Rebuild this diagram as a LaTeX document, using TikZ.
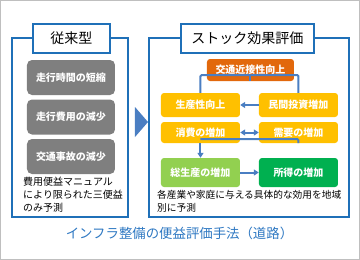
\documentclass[tikz,border=0pt]{standalone}
\usepackage{fontspec}
\setmainfont{Noto Sans CJK JP}
\usetikzlibrary{arrows.meta}
\definecolor{frameblue}{HTML}{1F70B8}
\definecolor{connblue}{HTML}{4A7EC2}
\definecolor{boxgray}{HTML}{7F7F7F}
\definecolor{boxyellow}{HTML}{FFC000}
\definecolor{boxorange}{HTML}{E2680C}
\definecolor{boxlgreen}{HTML}{92D050}
\definecolor{boxgreen}{HTML}{00B050}
\definecolor{titleblue}{HTML}{2E78C2}
\tikzset{
  frame/.style={draw=frameblue, line width=2pt},
  titlebox/.style={draw=frameblue, line width=2.6pt, fill=white, inner sep=0pt, font=\fontsize{14}{16}\selectfont},
  graybox/.style={fill=boxgray, rounded corners=5pt, minimum width=88pt, minimum height=35pt, inner sep=0pt, text=white, font=\fontsize{10}{12}\selectfont\bfseries},
  cbox/.style={rounded corners=3pt, minimum width=79pt, inner sep=0pt, text=white, font=\fontsize{10}{12}\selectfont\bfseries},
  conn/.style={draw=connblue, line width=2pt},
  tip/.style={-{Triangle[length=5pt,width=6pt]}},
  note/.style={anchor=north west, inner sep=0pt, align=left, font=\fontsize{10}{13}\selectfont}
}
\begin{document}
\begin{tikzpicture}[x=1pt,y=-1pt]
\useasboundingbox (0,0) rectangle (360,260);
\draw[draw=gray!50, line width=1pt] (0.5,0.5) rectangle (359.5,259.5);
% left frame
\draw[frame] (12,38) rectangle (128.5,217);
\node[titlebox, minimum width=77pt, minimum height=29pt] (t1) at (71.5,38.5) {従来型};
\node[graybox] (g1) at (71,77.5) {走行時間の短縮};
\node[graybox] (g2) at (71,117) {走行費用の減少};
\node[graybox] (g3) at (71,156.5) {交通事故の減少};
\node[note, text width=100pt] (n1) at (23,177) {費用便益マニュアル\\により限られた三便益\\のみ予測};
% arrow
\fill[connblue] (135,107) -- (148,122) -- (135,137) -- cycle;
% right frame
\draw[frame] (149,38) rectangle (349,217);
\node[titlebox, minimum width=133pt, minimum height=29pt] (t2) at (247.5,38.5) {ストック効果評価};
\node[cbox, fill=boxorange, minimum width=87pt, minimum height=22pt] (o) at (250.5,70) {交通近接性向上};
\node[cbox, fill=boxyellow, minimum height=24pt] (p) at (200.5,105) {生産性向上};
\node[cbox, fill=boxyellow, minimum height=24pt] (m) at (298.5,105) {民間投資増加};
\node[cbox, fill=boxyellow, minimum height=21pt] (c) at (200.5,132.5) {消費の増加};
\node[cbox, fill=boxyellow, minimum height=21pt] (d) at (298.5,132.5) {需要の増加};
\node[cbox, fill=boxlgreen, minimum height=29pt] (tg) at (200.5,172.5) {総生産の増加};
\node[cbox, fill=boxgreen, minimum height=29pt] (ig) at (298.5,172.5) {所得の増加};
\coordinate (j1) at ([yshift=6pt]o.south);
\draw[conn] (o.south) -- (j1);
\draw[conn, rounded corners=1pt] (j1) -| (p.north);
\draw[conn, rounded corners=1pt] (j1) -| (m.north);
\draw[conn, tip] (m.west) -- (p.east);
\draw[conn, {Triangle[length=5pt,width=6pt]}-{Triangle[length=5pt,width=6pt]}] (c.east) -- (d.west);
\coordinate (j2) at ([yshift=4pt]c.south);
\draw[conn, rounded corners=1pt] (d.south) |- (j2);
\draw[conn, tip] (c.south) -- (tg.north);
\draw[conn, tip] (tg.east) -- (ig.west);
\node[note, text width=190pt, font=\fontsize{9.7}{13}\selectfont] (n2) at (157,190) {各産業や家庭に与える具体的な効用を地域\\別に予測};
% bottom title
\node[inner sep=0pt, text=titleblue, font=\fontsize{13.4}{16}\selectfont] (ttl) at (179.5,233) {インフラ整備の便益評価手法（道路）};
\end{tikzpicture}
\end{document}
